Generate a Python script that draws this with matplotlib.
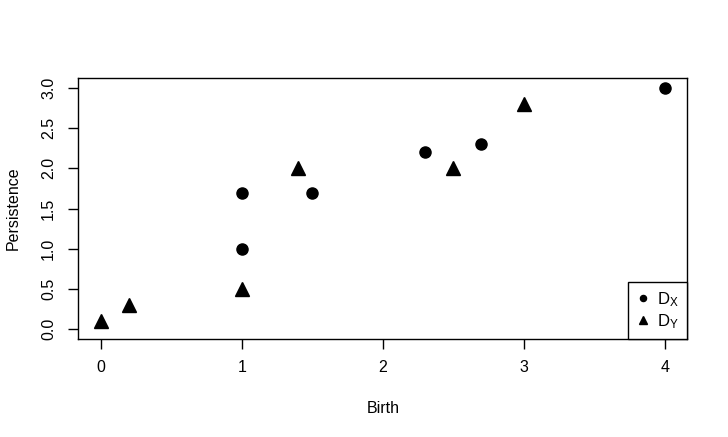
import matplotlib
matplotlib.use('Agg')
import matplotlib.pyplot as plt

# points of the two diagrams (birth, persistence)
dx_birth = [1, 1, 1.5, 2.3, 2.7, 4]
dx_pers = [1.7, 1.0, 1.7, 2.2, 2.3, 3.0]
dy_birth = [0, 0.2, 1, 1.4, 2.5, 3]
dy_pers = [0.1, 0.3, 0.5, 2.0, 2.0, 2.8]

x_ticks = [0, 1, 2, 3, 4]
y_ticks = [0.0, 0.5, 1.0, 1.5, 2.0, 2.5, 3.0]

plt.rcParams['font.family'] = ['Liberation Sans', 'DejaVu Sans']
plt.rcParams['mathtext.fontset'] = 'custom'
plt.rcParams['mathtext.rm'] = 'Liberation Sans'
plt.rcParams['mathtext.it'] = 'Liberation Sans'

fig = plt.figure(figsize=(7.28, 4.37), dpi=100)
ax = fig.add_axes([0.1076, 0.2243, 0.8365, 0.5965])

ax.plot(dx_birth, dx_pers, 'o', color='black', markersize=8, label=r'$\mathrm{D_X}$')
ax.plot(dy_birth, dy_pers, '^', color='black', markersize=9.5, label=r'$\mathrm{D_Y}$')

ax.set_xlim(-0.16, 4.16)
ax.set_ylim(-0.12, 3.12)
ax.set_xticks(x_ticks)
ax.set_xticklabels([str(t) for t in x_ticks])
ax.set_yticks(y_ticks)
ax.set_yticklabels(['%.1f' % t for t in y_ticks], rotation=90, va='center')

ax.tick_params(axis='both', length=7, width=1, labelsize=11.5, direction='out')
ax.tick_params(axis='x', pad=8)
ax.tick_params(axis='y', pad=9)
for s in ax.spines.values():
    s.set_linewidth(1)

ax.set_xlabel('Birth', fontsize=11.5, va='center')
ax.xaxis.set_label_coords(0.5, -0.265)
ax.set_ylabel('Persistence', fontsize=11.5, va='center')
ax.yaxis.set_label_coords(-0.107, 0.5)

# legend sits in the bottom right corner, touching the box
leg = ax.legend(loc='lower right', borderaxespad=0, fancybox=False,
                edgecolor='black', framealpha=1, fontsize=12,
                markerscale=0.55, handlelength=0.8, handletextpad=0.45,
                borderpad=0.5, labelspacing=0.2)
leg.get_frame().set_linewidth(1)

fig.savefig('out.png', dpi=100)
